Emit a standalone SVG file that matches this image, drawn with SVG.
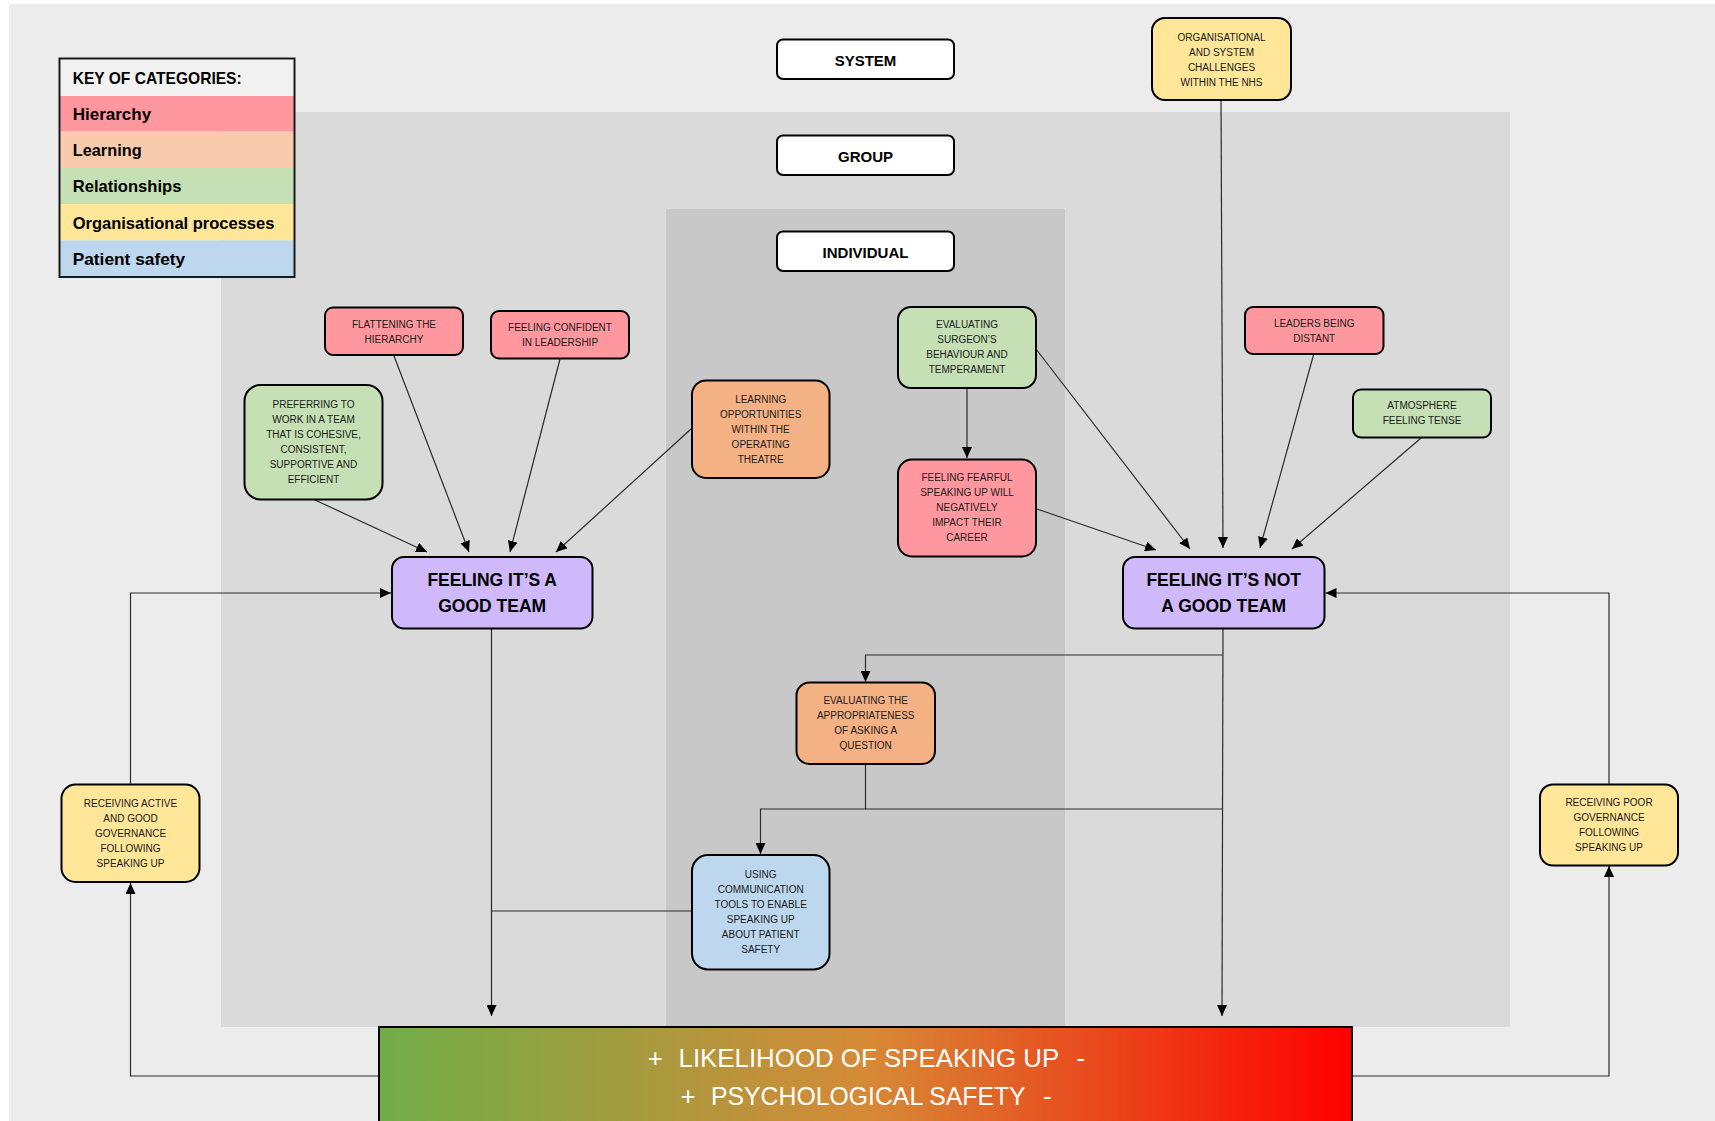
<svg xmlns="http://www.w3.org/2000/svg" width="1715" height="1121" viewBox="0 0 1715 1121">
<defs>
<linearGradient id="barGrad" x1="0" y1="0" x2="1" y2="0">
<stop offset="0" stop-color="#70ad47"/>
<stop offset="0.5" stop-color="#d68a36"/>
<stop offset="1" stop-color="#ff0000"/>
</linearGradient>
<marker id="arr" markerWidth="12" markerHeight="10" refX="11" refY="5" orient="auto" markerUnits="userSpaceOnUse">
<path d="M0,0 L11,5 L0,10 z" fill="#000"/>
</marker>
<style>
.node{stroke:#000;stroke-width:2}
.hier{fill:#ff979f}
.learn{fill:#f4b183}
.rel{fill:#c5e0b4}
.org{fill:#ffe699}
.pat{fill:#bdd7ee}
.team{fill:#cfb9fa}
.lvl{fill:#fff;stroke:#000;stroke-width:2}
.t{font-family:"Liberation Sans",Arial,sans-serif;font-size:10px;fill:#1a1a1a;text-anchor:middle}
.tb{font-family:"Liberation Sans",Arial,sans-serif;font-size:17.5px;font-weight:bold;fill:#000;text-anchor:middle}
.tl{font-family:"Liberation Sans",Arial,sans-serif;font-size:15px;font-weight:bold;fill:#000;text-anchor:middle}
.tk{font-family:"Liberation Sans",Arial,sans-serif;font-size:17px;font-weight:bold;fill:#000}
.tw{font-family:"Liberation Sans",Arial,sans-serif;font-size:26px;fill:#fff}
.c{fill:none;stroke:#2b2b2b;stroke-width:1.2}
.ca{fill:none;stroke:#2b2b2b;stroke-width:1.2;marker-end:url(#arr)}
</style>
</defs>

<!-- backgrounds -->
<rect x="0" y="0" width="1715" height="1121" fill="#ffffff"/>
<rect x="9" y="4" width="1706" height="1117" fill="#ececec"/>
<rect x="221" y="112" width="1289" height="915" fill="#dadada"/>
<rect x="666" y="209" width="399" height="818" fill="#c8c8c8"/>

<!-- key -->
<g id="key">
<rect x="59.5" y="58.5" width="235" height="37.5" fill="#f2f2f2"/>
<rect x="59.5" y="96" width="235" height="35.5" fill="#ff979f"/>
<rect x="59.5" y="131.5" width="235" height="36.5" fill="#f8cbad"/>
<rect x="59.5" y="168" width="235" height="36" fill="#c5e0b4"/>
<rect x="59.5" y="204" width="235" height="36.5" fill="#ffe699"/>
<rect x="59.5" y="240.5" width="235" height="36.5" fill="#bdd7ee"/>
<rect x="59.5" y="58.5" width="235" height="218.5" fill="none" stroke="#1a1a1a" stroke-width="2"/>
<text class="tk" x="72.7" y="84" textLength="169" lengthAdjust="spacingAndGlyphs">KEY OF CATEGORIES:</text>
<text class="tk" x="72.7" y="119.5" textLength="78.5" lengthAdjust="spacingAndGlyphs">Hierarchy</text>
<text class="tk" x="72.7" y="156" textLength="69" lengthAdjust="spacingAndGlyphs">Learning</text>
<text class="tk" x="72.7" y="192.3" textLength="108.7" lengthAdjust="spacingAndGlyphs">Relationships</text>
<text class="tk" x="72.7" y="229" textLength="201.7" lengthAdjust="spacingAndGlyphs">Organisational processes</text>
<text class="tk" x="72.7" y="265" textLength="112.5" lengthAdjust="spacingAndGlyphs">Patient safety</text>
</g>

<!-- level labels -->
<g id="level-system">
<rect class="lvl" x="777" y="39.5" width="177" height="39.5" rx="6"/>
<text class="tl" x="865.5" y="65.5">SYSTEM</text>
</g>
<g id="level-group">
<rect class="lvl" x="777" y="135.5" width="177" height="39.5" rx="6"/>
<text class="tl" x="865.5" y="161.5">GROUP</text>
</g>
<g id="level-individual">
<rect class="lvl" x="777" y="231.5" width="177" height="39.5" rx="6"/>
<text class="tl" x="865.5" y="257.5">INDIVIDUAL</text>
</g>

<!-- connectors -->
<g id="connectors">
<path class="ca" d="M315,500 L427,552"/>
<path class="ca" d="M394,356 L469,552"/>
<path class="ca" d="M560,359 L510,552"/>
<path class="ca" d="M691,429 L556,552"/>
<path class="ca" d="M1221,100 L1223,548"/>
<path class="ca" d="M1036,349 L1190,549"/>
<path class="ca" d="M1037,509 L1156,550"/>
<path class="ca" d="M1313.5,355 L1260,548"/>
<path class="ca" d="M1421,438 L1292,549"/>
<path class="ca" d="M967,388 L967,458"/>
<path class="ca" d="M491.5,629 L491.5,1016"/>
<path class="c" d="M692,911 L491.5,911"/>
<path class="ca" d="M1223,629 L1222,1016"/>
<path class="ca" d="M1222.5,655 L865.5,655 L865.5,682"/>
<path class="ca" d="M865.5,764 L865.5,809 L760.5,809 L760.5,854"/>
<path class="c" d="M865.5,809 L1222,809"/>
<path class="ca" d="M379,1076 L130.5,1076 L130.5,883"/>
<path class="ca" d="M130.5,784 L130.5,593 L391,593"/>
<path class="ca" d="M1352,1076 L1609,1076 L1609,866"/>
<path class="ca" d="M1609,784 L1609,593 L1325.5,593"/>
</g>

<!-- nodes -->
<g id="n-org-challenges">
<rect class="node org" x="1152" y="18" width="139" height="82" rx="13"/>
<text class="t" x="1221.5" y="41">ORGANISATIONAL</text>
<text class="t" x="1221.5" y="56">AND SYSTEM</text>
<text class="t" x="1221.5" y="70.5">CHALLENGES</text>
<text class="t" x="1221.5" y="85.5">WITHIN THE NHS</text>
</g>
<g id="n-flattening">
<rect class="node hier" x="325" y="307.5" width="138" height="47.5" rx="8"/>
<text class="t" x="394" y="327.7">FLATTENING THE</text>
<text class="t" x="394" y="342.7">HIERARCHY</text>
</g>
<g id="n-confident">
<rect class="node hier" x="491" y="311" width="138" height="47.5" rx="8"/>
<text class="t" x="560" y="330.7">FEELING CONFIDENT</text>
<text class="t" x="560" y="345.7">IN LEADERSHIP</text>
</g>
<g id="n-preferring">
<rect class="node rel" x="244.5" y="385" width="138" height="114.5" rx="16"/>
<text class="t" x="313.5" y="408">PREFERRING TO</text>
<text class="t" x="313.5" y="423">WORK IN A TEAM</text>
<text class="t" x="313.5" y="438">THAT IS COHESIVE,</text>
<text class="t" x="313.5" y="453">CONSISTENT,</text>
<text class="t" x="313.5" y="468">SUPPORTIVE AND</text>
<text class="t" x="313.5" y="483">EFFICIENT</text>
</g>
<g id="n-learning-opps">
<rect class="node learn" x="692" y="380.5" width="137.5" height="97.5" rx="14"/>
<text class="t" x="760.7" y="402.7">LEARNING</text>
<text class="t" x="760.7" y="417.7">OPPORTUNITIES</text>
<text class="t" x="760.7" y="432.7">WITHIN THE</text>
<text class="t" x="760.7" y="447.7">OPERATING</text>
<text class="t" x="760.7" y="462.7">THEATRE</text>
</g>
<g id="n-eval-surgeon">
<rect class="node rel" x="898" y="307" width="138" height="81" rx="13"/>
<text class="t" x="967" y="327.7">EVALUATING</text>
<text class="t" x="967" y="342.7">SURGEON’S</text>
<text class="t" x="967" y="357.7">BEHAVIOUR AND</text>
<text class="t" x="967" y="372.7">TEMPERAMENT</text>
</g>
<g id="n-fearful">
<rect class="node hier" x="898" y="459.5" width="138" height="97" rx="14"/>
<text class="t" x="967" y="481">FEELING FEARFUL</text>
<text class="t" x="967" y="496">SPEAKING UP WILL</text>
<text class="t" x="967" y="511">NEGATIVELY</text>
<text class="t" x="967" y="526">IMPACT THEIR</text>
<text class="t" x="967" y="541">CAREER</text>
</g>
<g id="n-leaders-distant">
<rect class="node hier" x="1245" y="307" width="138.5" height="47" rx="8"/>
<text class="t" x="1314.2" y="326.7">LEADERS BEING</text>
<text class="t" x="1314.2" y="341.7">DISTANT</text>
</g>
<g id="n-atmosphere">
<rect class="node rel" x="1353" y="389.5" width="138" height="48" rx="8"/>
<text class="t" x="1422" y="409.3">ATMOSPHERE</text>
<text class="t" x="1422" y="424.3">FEELING TENSE</text>
</g>
<g id="n-good-team">
<rect class="node team" x="392" y="557" width="200.5" height="71.5" rx="12"/>
<text class="tb" x="492.2" y="586">FEELING IT’S A</text>
<text class="tb" x="492.2" y="611.7">GOOD TEAM</text>
</g>
<g id="n-not-good-team">
<rect class="node team" x="1123" y="557" width="201.5" height="71.5" rx="12"/>
<text class="tb" x="1223.7" y="586">FEELING IT’S NOT</text>
<text class="tb" x="1223.7" y="611.7">A GOOD TEAM</text>
</g>
<g id="n-eval-approp">
<rect class="node learn" x="796.5" y="682.5" width="138.5" height="81.5" rx="13"/>
<text class="t" x="865.7" y="704">EVALUATING THE</text>
<text class="t" x="865.7" y="719">APPROPRIATENESS</text>
<text class="t" x="865.7" y="734">OF ASKING A</text>
<text class="t" x="865.7" y="749">QUESTION</text>
</g>
<g id="n-comm-tools">
<rect class="node pat" x="692" y="855" width="137.5" height="114.5" rx="16"/>
<text class="t" x="760.7" y="877.7">USING</text>
<text class="t" x="760.7" y="892.7">COMMUNICATION</text>
<text class="t" x="760.7" y="907.7">TOOLS TO ENABLE</text>
<text class="t" x="760.7" y="922.7">SPEAKING UP</text>
<text class="t" x="760.7" y="937.7">ABOUT PATIENT</text>
<text class="t" x="760.7" y="952.7">SAFETY</text>
</g>
<g id="n-active-governance">
<rect class="node org" x="61.5" y="784.5" width="138" height="97.5" rx="14"/>
<text class="t" x="130.5" y="806.7">RECEIVING ACTIVE</text>
<text class="t" x="130.5" y="821.7">AND GOOD</text>
<text class="t" x="130.5" y="836.7">GOVERNANCE</text>
<text class="t" x="130.5" y="851.7">FOLLOWING</text>
<text class="t" x="130.5" y="866.7">SPEAKING UP</text>
</g>
<g id="n-poor-governance">
<rect class="node org" x="1540" y="784.5" width="138" height="81" rx="13"/>
<text class="t" x="1609" y="806">RECEIVING POOR</text>
<text class="t" x="1609" y="821">GOVERNANCE</text>
<text class="t" x="1609" y="836">FOLLOWING</text>
<text class="t" x="1609" y="851">SPEAKING UP</text>
</g>
<g id="n-outcome-bar">
<rect x="379" y="1027" width="973" height="110" fill="url(#barGrad)" stroke="#000" stroke-width="2"/>
<text class="tw" x="647.8" y="1066.7">+</text>
<text class="tw" x="678.5" y="1066.7" textLength="380.7" lengthAdjust="spacingAndGlyphs">LIKELIHOOD OF SPEAKING UP</text>
<text class="tw" x="1076.5" y="1066.7">-</text>
<text class="tw" x="680.4" y="1105">+</text>
<text class="tw" x="711" y="1105" textLength="314.6" lengthAdjust="spacingAndGlyphs">PSYCHOLOGICAL SAFETY</text>
<text class="tw" x="1043" y="1105">-</text>
</g>
</svg>
